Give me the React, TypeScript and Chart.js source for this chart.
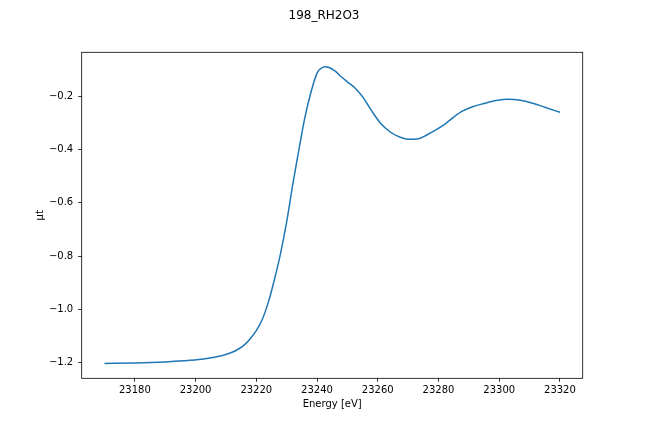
import React, { useEffect, useRef } from "react";
import { Chart, registerables } from "chart.js";

Chart.register(...registerables);

const energy = [
  23170, 23180, 23190, 23196, 23202, 23207, 23210, 23213, 23216, 23218,
  23220, 23222, 23224, 23226, 23228, 23230, 23232, 23234, 23236, 23238,
  23240, 23241, 23242.5, 23244, 23246, 23248, 23250, 23252.5, 23255, 23258,
  23261, 23264, 23267, 23270, 23273, 23276, 23279, 23282, 23285, 23288,
  23291, 23295, 23299, 23303, 23307, 23311, 23315, 23320,
];
const mu = [
  -1.203, -1.201, -1.197, -1.193, -1.187, -1.178, -1.169, -1.156, -1.134, -1.11,
  -1.08, -1.037, -0.972, -0.887, -0.79, -0.672, -0.532, -0.403, -0.281, -0.186,
  -0.114, -0.099, -0.09, -0.093, -0.107, -0.128, -0.147, -0.17, -0.203, -0.256,
  -0.303, -0.334, -0.353, -0.362, -0.361, -0.347, -0.328, -0.306, -0.279, -0.256,
  -0.241, -0.228, -0.217, -0.212, -0.216, -0.227, -0.242, -0.261,
];
const xTicks = [23180, 23200, 23220, 23240, 23260, 23280, 23300, 23320];
const yTicks = [-1.2, -1.0, -0.8, -0.6, -0.4, -0.2];

const titleText = "198_RH2O3";
const xLabel = "Energy [eV]";
const yLabel = "μt";

const FONT = "'DejaVu Sans', sans-serif";

export default function App() {
  const ref = useRef<HTMLCanvasElement | null>(null);

  useEffect(() => {
    document.body.style.margin = "0";
    const canvas = ref.current;
    if (!canvas) return;

    const frame = {
      id: "frame",
      afterDraw(chart: any) {
        const { ctx, chartArea } = chart;
        ctx.save();
        ctx.strokeStyle = "#000";
        ctx.lineWidth = 0.8;
        ctx.strokeRect(
          chartArea.left,
          chartArea.top,
          chartArea.right - chartArea.left,
          chartArea.bottom - chartArea.top
        );
        ctx.fillStyle = "#000";
        ctx.font = "12px " + FONT;
        ctx.textAlign = "center";
        ctx.textBaseline = "middle";
        ctx.fillText(titleText, chart.width / 2, 16);
        ctx.restore();
      },
    };

    const chart = new Chart(canvas, {
      type: "line",
      data: {
        datasets: [
          {
            data: energy.map((e, i) => ({ x: e, y: mu[i] })),
            borderColor: "#1f77b4",
            borderWidth: 1.5,
            pointRadius: 0,
            fill: false,
            cubicInterpolationMode: "monotone",
          },
        ],
      },
      options: {
        responsive: false,
        animation: false,
        layout: { padding: { left: 0, right: 65.3, top: 52.3, bottom: 0 } },
        plugins: {
          legend: { display: false },
          tooltip: { enabled: false },
          title: { display: false },
        },
        scales: {
          x: {
            type: "linear",
            min: 23162.5,
            max: 23327.5,
            afterBuildTicks: (scale: any) => {
              scale.ticks = xTicks.map((v) => ({ value: v }));
            },
            afterFit: (scale: any) => {
              scale.height = 53.7;
            },
            grid: {
              drawOnChartArea: false,
              drawTicks: true,
              tickLength: 3.5,
              tickColor: "#000",
              tickWidth: 0.8,
            },
            border: { display: false },
            ticks: {
              color: "#000",
              font: { family: FONT, size: 10 },
              padding: 3,
              maxRotation: 0,
              autoSkip: false,
              callback: (v: any) => String(Math.round(Number(v))),
            },
            title: {
              display: true,
              text: xLabel,
              color: "#000",
              font: { family: FONT, size: 10 },
              padding: { top: 0, bottom: 22 },
            },
          },
          y: {
            type: "linear",
            min: -1.2585,
            max: -0.0361,
            afterBuildTicks: (scale: any) => {
              scale.ticks = yTicks.map((v) => ({ value: v }));
            },
            afterFit: (scale: any) => {
              scale.width = 81.7;
            },
            grid: {
              drawOnChartArea: false,
              drawTicks: true,
              tickLength: 3.5,
              tickColor: "#000",
              tickWidth: 0.8,
            },
            border: { display: false },
            ticks: {
              color: "#000",
              font: { family: FONT, size: 10 },
              padding: 5,
              autoSkip: false,
              callback: (v: any) => Number(v).toFixed(1).replace("-", "\u2212"),
            },
            title: {
              display: true,
              text: yLabel,
              color: "#000",
              font: { family: FONT, size: 10 },
              padding: { top: 34, bottom: 0 },
            },
          },
        },
      },
      plugins: [frame],
    } as any);

    return () => chart.destroy();
  }, []);

  return (
    <div style={{ position: "absolute", left: 0, top: 0 }}>
      <canvas ref={ref} width={648} height={432} />
    </div>
  );
}
